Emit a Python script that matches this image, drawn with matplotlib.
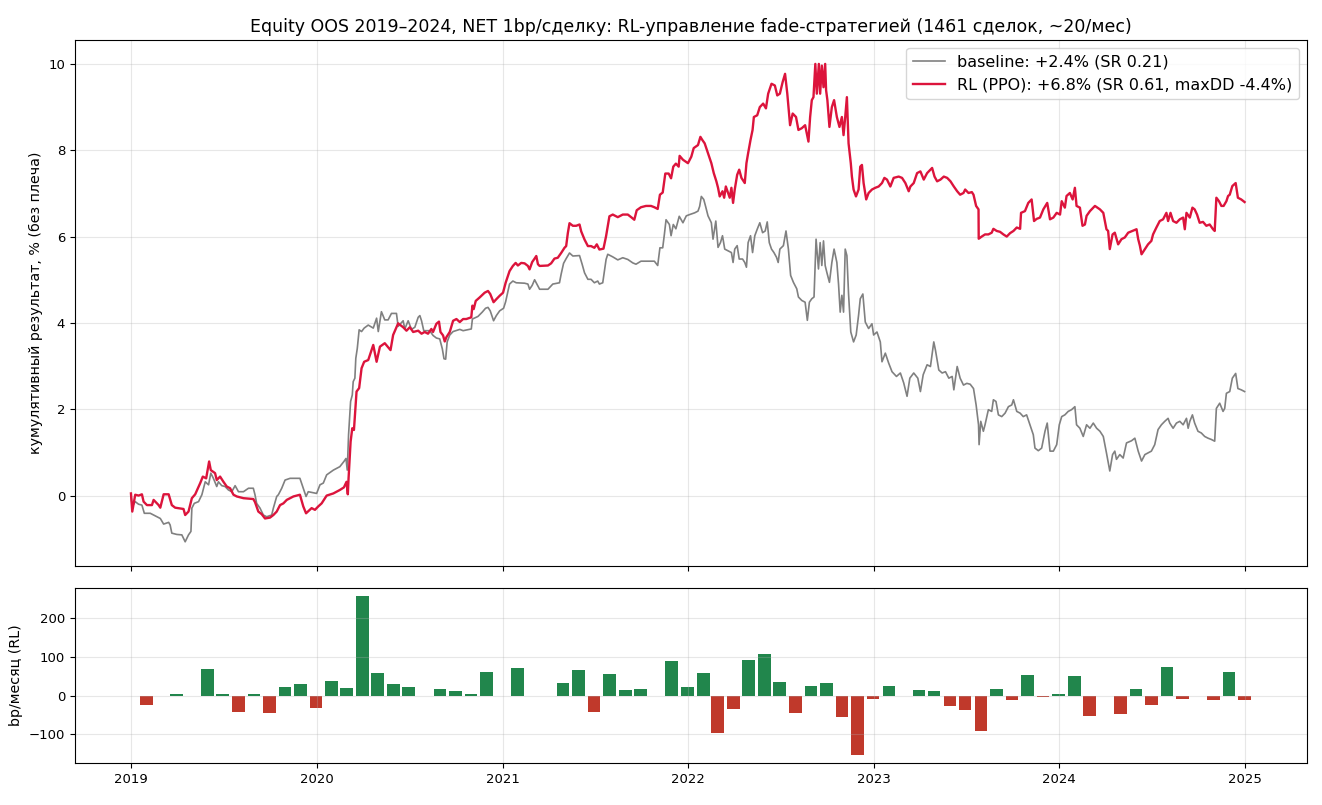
import matplotlib
matplotlib.use('Agg')
import matplotlib.pyplot as plt
import numpy as np
import pandas as pd

# (decimal year, cumulative %)
rl_pts = [
    (2019.000, 0.05), (2019.007, -0.37), (2019.023, 0.02), (2019.041, 0.00), (2019.059, 0.03),
    (2019.068, -0.14), (2019.086, -0.22), (2019.113, -0.22), (2019.122, -0.10), (2019.149, -0.22),
    (2019.158, -0.28), (2019.176, 0.03), (2019.203, 0.03), (2019.220, -0.22), (2019.238, -0.28),
    (2019.283, -0.31), (2019.292, -0.45), (2019.310, -0.37), (2019.328, -0.06), (2019.346, 0.03),
    (2019.373, 0.29), (2019.387, 0.44), (2019.405, 0.40), (2019.421, 0.79), (2019.430, 0.59),
    (2019.453, 0.52), (2019.462, 0.36), (2019.480, 0.44), (2019.498, 0.32), (2019.516, 0.21),
    (2019.534, 0.17), (2019.552, 0.02), (2019.570, -0.02), (2019.606, -0.06), (2019.659, -0.08),
    (2019.668, -0.15), (2019.686, -0.37), (2019.704, -0.43), (2019.722, -0.53), (2019.749, -0.51),
    (2019.767, -0.45), (2019.785, -0.37), (2019.803, -0.22), (2019.821, -0.18), (2019.839, -0.10),
    (2019.875, -0.02), (2019.910, 0.02), (2019.928, -0.25), (2019.943, -0.41), (2019.973, -0.29),
    (2019.991, -0.33), (2020.009, -0.25), (2020.027, -0.18), (2020.054, 0.00), (2020.090, 0.05),
    (2020.125, 0.13), (2020.147, 0.19), (2020.161, 0.32), (2020.168, 0.03), (2020.172, 0.40),
    (2020.183, 1.25), (2020.192, 1.56), (2020.201, 1.52), (2020.215, 2.41), (2020.229, 2.49),
    (2020.242, 2.95), (2020.256, 3.10), (2020.278, 3.14), (2020.305, 3.49), (2020.323, 3.10),
    (2020.341, 3.45), (2020.367, 3.53), (2020.398, 3.37), (2020.412, 3.72), (2020.439, 3.99),
    (2020.466, 3.90), (2020.484, 3.82), (2020.502, 3.90), (2020.520, 3.79), (2020.547, 3.82),
    (2020.565, 3.75), (2020.582, 3.79), (2020.600, 3.75), (2020.618, 3.86), (2020.627, 3.79),
    (2020.645, 3.98), (2020.659, 4.03), (2020.667, 3.79), (2020.681, 3.71), (2020.690, 3.57),
    (2020.699, 3.67), (2020.717, 3.79), (2020.735, 4.05), (2020.753, 4.09), (2020.771, 4.02),
    (2020.789, 4.09), (2020.806, 4.09), (2020.833, 4.13), (2020.839, 4.40), (2020.846, 4.32),
    (2020.857, 4.51), (2020.878, 4.59), (2020.905, 4.70), (2020.923, 4.74), (2020.935, 4.67),
    (2020.953, 4.48), (2020.968, 4.55), (2020.986, 4.63), (2021.004, 4.70), (2021.018, 4.93),
    (2021.039, 5.20), (2021.057, 5.32), (2021.072, 5.39), (2021.084, 5.33), (2021.102, 5.39),
    (2021.120, 5.38), (2021.138, 5.32), (2021.147, 5.24), (2021.161, 5.41), (2021.174, 5.49),
    (2021.183, 5.55), (2021.192, 5.36), (2021.201, 5.32), (2021.246, 5.33), (2021.263, 5.38),
    (2021.281, 5.49), (2021.299, 5.51), (2021.317, 5.62), (2021.335, 5.74), (2021.344, 5.78),
    (2021.353, 6.08), (2021.362, 6.31), (2021.380, 6.25), (2021.398, 6.25), (2021.416, 6.28),
    (2021.425, 6.12), (2021.443, 5.93), (2021.461, 5.78), (2021.478, 5.78), (2021.496, 5.74),
    (2021.509, 5.82), (2021.523, 5.70), (2021.545, 5.72), (2021.559, 6.01), (2021.577, 6.47),
    (2021.595, 6.51), (2021.622, 6.45), (2021.649, 6.51), (2021.676, 6.51), (2021.694, 6.45),
    (2021.711, 6.39), (2021.724, 6.61), (2021.747, 6.68), (2021.774, 6.71), (2021.801, 6.71),
    (2021.819, 6.68), (2021.837, 6.64), (2021.849, 6.97), (2021.864, 7.02), (2021.878, 7.46),
    (2021.896, 7.46), (2021.909, 7.35), (2021.921, 7.62), (2021.935, 7.69), (2021.950, 7.62),
    (2021.955, 7.87), (2021.973, 7.78), (2022.000, 7.70), (2022.018, 7.85), (2022.031, 8.05),
    (2022.054, 8.12), (2022.067, 8.31), (2022.077, 8.24), (2022.090, 8.16), (2022.108, 7.93),
    (2022.126, 7.70), (2022.139, 7.47), (2022.153, 7.28), (2022.162, 7.13), (2022.171, 6.93),
    (2022.186, 7.05), (2022.195, 6.90), (2022.204, 7.16), (2022.216, 7.01), (2022.225, 6.90),
    (2022.234, 7.13), (2022.243, 6.78), (2022.252, 7.09), (2022.265, 7.43), (2022.276, 7.55),
    (2022.288, 7.36), (2022.306, 7.24), (2022.315, 7.70), (2022.324, 7.93), (2022.337, 8.24),
    (2022.348, 8.47), (2022.355, 8.77), (2022.373, 8.81), (2022.387, 9.00), (2022.405, 9.08),
    (2022.420, 8.97), (2022.432, 9.31), (2022.450, 9.54), (2022.468, 9.50), (2022.481, 9.27),
    (2022.495, 9.31), (2022.510, 9.58), (2022.523, 9.77), (2022.535, 9.31), (2022.550, 8.58),
    (2022.564, 8.85), (2022.582, 8.77), (2022.595, 8.47), (2022.613, 8.51), (2022.631, 8.58),
    (2022.640, 8.39), (2022.649, 8.20), (2022.658, 8.77), (2022.667, 9.16), (2022.676, 9.23),
    (2022.686, 10.00), (2022.694, 9.31), (2022.705, 10.00), (2022.712, 9.31), (2022.721, 9.96),
    (2022.730, 9.46), (2022.739, 10.00), (2022.744, 9.39), (2022.751, 9.16), (2022.762, 8.54),
    (2022.775, 9.00), (2022.787, 9.16), (2022.802, 8.77), (2022.816, 8.54), (2022.829, 8.77),
    (2022.838, 8.35), (2022.847, 8.77), (2022.856, 9.23), (2022.865, 8.16), (2022.877, 7.70),
    (2022.883, 7.39), (2022.892, 7.09), (2022.905, 6.93), (2022.919, 7.09), (2022.928, 7.62),
    (2022.937, 7.66), (2022.946, 7.24), (2022.960, 6.86), (2022.973, 7.01), (2022.991, 7.09),
    (2023.009, 7.13), (2023.027, 7.16), (2023.045, 7.24), (2023.058, 7.36), (2023.072, 7.32),
    (2023.090, 7.16), (2023.108, 7.36), (2023.135, 7.39), (2023.153, 7.36), (2023.171, 7.24),
    (2023.189, 7.05), (2023.198, 7.16), (2023.216, 7.24), (2023.234, 7.47), (2023.252, 7.51),
    (2023.270, 7.32), (2023.288, 7.47), (2023.315, 7.59), (2023.328, 7.39), (2023.342, 7.28),
    (2023.360, 7.32), (2023.378, 7.39), (2023.396, 7.36), (2023.414, 7.28), (2023.432, 7.16),
    (2023.450, 7.05), (2023.466, 6.97), (2023.484, 7.01), (2023.493, 7.09), (2023.511, 7.01),
    (2023.529, 7.03), (2023.538, 6.97), (2023.552, 6.71), (2023.565, 6.63), (2023.566, 5.95),
    (2023.582, 6.00), (2023.600, 6.05), (2023.618, 6.05), (2023.636, 6.09), (2023.645, 6.18),
    (2023.663, 6.13), (2023.681, 6.11), (2023.699, 6.05), (2023.717, 6.00), (2023.735, 6.08),
    (2023.753, 6.13), (2023.771, 6.21), (2023.789, 6.18), (2023.794, 6.55), (2023.815, 6.59),
    (2023.833, 6.78), (2023.851, 6.86), (2023.864, 6.36), (2023.878, 6.41), (2023.896, 6.44),
    (2023.914, 6.63), (2023.935, 6.78), (2023.950, 6.40), (2023.968, 6.44), (2023.986, 6.55),
    (2024.004, 6.51), (2024.013, 6.82), (2024.030, 6.67), (2024.039, 6.94), (2024.057, 7.01),
    (2024.072, 6.86), (2024.084, 7.13), (2024.093, 6.71), (2024.111, 6.67), (2024.125, 6.25),
    (2024.138, 6.28), (2024.147, 6.48), (2024.165, 6.59), (2024.192, 6.71), (2024.219, 6.63),
    (2024.237, 6.55), (2024.254, 6.17), (2024.263, 6.13), (2024.272, 5.71), (2024.287, 6.05),
    (2024.299, 6.09), (2024.317, 5.82), (2024.335, 5.94), (2024.353, 5.98), (2024.371, 6.09),
    (2024.416, 6.17), (2024.425, 5.94), (2024.434, 5.79), (2024.443, 5.59), (2024.461, 5.71),
    (2024.478, 5.82), (2024.496, 5.90), (2024.505, 6.05), (2024.523, 6.21), (2024.541, 6.36),
    (2024.559, 6.40), (2024.577, 6.55), (2024.586, 6.36), (2024.599, 6.55), (2024.613, 6.36),
    (2024.631, 6.32), (2024.649, 6.40), (2024.667, 6.44), (2024.676, 6.17), (2024.685, 6.55),
    (2024.703, 6.44), (2024.717, 6.67), (2024.729, 6.63), (2024.742, 6.51), (2024.756, 6.32),
    (2024.774, 6.34), (2024.792, 6.25), (2024.810, 6.28), (2024.828, 6.17), (2024.837, 6.13),
    (2024.846, 6.90), (2024.860, 6.82), (2024.873, 6.71), (2024.885, 6.71), (2024.900, 6.82),
    (2024.909, 6.94), (2024.918, 6.97), (2024.932, 7.17), (2024.950, 7.24), (2024.962, 6.90),
    (2024.980, 6.86), (2024.998, 6.80),
]

base_pts = [
    (2019.000, 0.00), (2019.007, -0.25), (2019.023, -0.14), (2019.041, -0.20), (2019.059, -0.22),
    (2019.072, -0.41), (2019.104, -0.41), (2019.122, -0.45), (2019.140, -0.49), (2019.158, -0.53),
    (2019.176, -0.66), (2019.203, -0.62), (2019.211, -0.68), (2019.220, -0.87), (2019.247, -0.90),
    (2019.274, -0.91), (2019.292, -1.07), (2019.310, -0.91), (2019.323, -0.83), (2019.328, -0.29),
    (2019.341, -0.18), (2019.364, -0.14), (2019.382, 0.02), (2019.400, 0.32), (2019.418, 0.25),
    (2019.430, 0.52), (2019.444, 0.40), (2019.462, 0.21), (2019.471, 0.32), (2019.489, 0.23),
    (2019.507, 0.21), (2019.525, 0.13), (2019.543, 0.09), (2019.561, 0.23), (2019.579, 0.09),
    (2019.606, 0.09), (2019.633, 0.17), (2019.659, 0.17), (2019.668, 0.02), (2019.677, -0.18),
    (2019.695, -0.29), (2019.713, -0.45), (2019.731, -0.49), (2019.758, -0.45), (2019.767, -0.29),
    (2019.785, -0.02), (2019.794, 0.02), (2019.812, 0.17), (2019.830, 0.36), (2019.857, 0.40),
    (2019.884, 0.40), (2019.910, 0.40), (2019.928, 0.17), (2019.943, -0.02), (2019.955, 0.09),
    (2020.000, 0.05), (2020.018, 0.25), (2020.036, 0.29), (2020.054, 0.48), (2020.090, 0.59),
    (2020.125, 0.67), (2020.147, 0.79), (2020.158, 0.86), (2020.165, 0.59), (2020.172, 1.41),
    (2020.183, 2.18), (2020.192, 2.33), (2020.197, 2.64), (2020.206, 2.72), (2020.211, 3.18),
    (2020.219, 3.41), (2020.229, 3.84), (2020.242, 3.80), (2020.256, 3.88), (2020.278, 3.95),
    (2020.305, 3.88), (2020.323, 4.11), (2020.332, 3.80), (2020.349, 4.26), (2020.367, 4.07),
    (2020.385, 4.07), (2020.403, 4.22), (2020.430, 4.22), (2020.439, 3.92), (2020.466, 4.05),
    (2020.475, 3.86), (2020.493, 4.05), (2020.511, 3.85), (2020.529, 3.90), (2020.547, 4.13),
    (2020.556, 4.17), (2020.565, 4.05), (2020.577, 3.82), (2020.609, 3.82), (2020.627, 3.71),
    (2020.645, 3.65), (2020.663, 3.63), (2020.677, 3.40), (2020.686, 3.17), (2020.695, 3.16),
    (2020.703, 3.56), (2020.717, 3.72), (2020.735, 3.80), (2020.771, 3.85), (2020.789, 3.82),
    (2020.833, 3.86), (2020.839, 4.09), (2020.869, 4.15), (2020.892, 4.25), (2020.910, 4.34),
    (2020.923, 4.36), (2020.935, 4.28), (2020.953, 4.05), (2020.968, 4.17), (2020.986, 4.28),
    (2021.007, 4.34), (2021.018, 4.49), (2021.039, 4.90), (2021.057, 4.97), (2021.075, 4.93),
    (2021.120, 4.92), (2021.138, 4.90), (2021.147, 4.78), (2021.161, 4.87), (2021.174, 5.00),
    (2021.186, 4.90), (2021.201, 4.78), (2021.246, 4.78), (2021.272, 4.90), (2021.308, 4.93),
    (2021.317, 5.13), (2021.330, 5.38), (2021.344, 5.49), (2021.362, 5.62), (2021.380, 5.55),
    (2021.416, 5.56), (2021.430, 5.36), (2021.443, 5.16), (2021.461, 5.01), (2021.478, 5.01),
    (2021.496, 4.93), (2021.514, 4.97), (2021.523, 4.90), (2021.541, 4.93), (2021.559, 5.47),
    (2021.568, 5.59), (2021.595, 5.53), (2021.622, 5.46), (2021.649, 5.51), (2021.676, 5.47),
    (2021.703, 5.39), (2021.720, 5.36), (2021.747, 5.43), (2021.819, 5.43), (2021.837, 5.33),
    (2021.849, 5.74), (2021.864, 5.74), (2021.873, 6.05), (2021.882, 6.39), (2021.900, 6.28),
    (2021.909, 6.02), (2021.921, 6.28), (2021.935, 6.18), (2021.953, 6.47), (2021.973, 6.32),
    (2021.991, 6.48), (2022.009, 6.51), (2022.036, 6.55), (2022.054, 6.59), (2022.063, 6.70),
    (2022.072, 6.93), (2022.085, 6.86), (2022.095, 6.70), (2022.108, 6.48), (2022.126, 6.32),
    (2022.135, 5.94), (2022.150, 6.36), (2022.162, 5.75), (2022.175, 5.86), (2022.186, 6.02),
    (2022.198, 5.71), (2022.216, 5.67), (2022.234, 5.63), (2022.243, 5.40), (2022.252, 5.71),
    (2022.265, 5.79), (2022.276, 5.48), (2022.294, 5.48), (2022.306, 5.40), (2022.315, 5.29),
    (2022.324, 5.86), (2022.337, 6.02), (2022.348, 5.63), (2022.360, 6.02), (2022.373, 6.17),
    (2022.387, 6.32), (2022.402, 6.09), (2022.416, 6.13), (2022.427, 6.34), (2022.438, 5.86),
    (2022.450, 5.71), (2022.463, 5.63), (2022.477, 5.52), (2022.486, 5.40), (2022.495, 5.71),
    (2022.514, 5.79), (2022.528, 6.13), (2022.541, 5.71), (2022.553, 5.10), (2022.568, 4.94),
    (2022.586, 4.79), (2022.595, 4.60), (2022.613, 4.52), (2022.631, 4.48), (2022.643, 4.06),
    (2022.654, 4.48), (2022.667, 4.56), (2022.679, 4.60), (2022.690, 5.94), (2022.703, 5.25),
    (2022.712, 5.86), (2022.721, 5.33), (2022.730, 5.90), (2022.739, 5.33), (2022.748, 5.17),
    (2022.762, 4.94), (2022.775, 5.40), (2022.787, 5.71), (2022.802, 5.40), (2022.811, 4.90),
    (2022.820, 4.25), (2022.829, 4.64), (2022.838, 4.25), (2022.847, 5.71), (2022.856, 5.56),
    (2022.865, 4.67), (2022.877, 3.79), (2022.892, 3.56), (2022.906, 3.72), (2022.919, 4.18),
    (2022.928, 4.56), (2022.942, 4.67), (2022.955, 4.02), (2022.973, 3.87), (2022.991, 3.98),
    (2023.000, 3.72), (2023.018, 3.79), (2023.036, 3.56), (2023.045, 3.10), (2023.063, 3.30),
    (2023.081, 3.07), (2023.099, 2.87), (2023.123, 2.76), (2023.144, 2.84), (2023.162, 2.61),
    (2023.180, 2.30), (2023.195, 2.72), (2023.216, 2.84), (2023.238, 2.72), (2023.252, 2.41),
    (2023.267, 2.80), (2023.288, 3.03), (2023.306, 2.99), (2023.324, 3.56), (2023.333, 3.37),
    (2023.351, 2.91), (2023.369, 2.84), (2023.387, 2.87), (2023.405, 2.72), (2023.423, 2.76),
    (2023.432, 2.45), (2023.450, 2.99), (2023.466, 2.72), (2023.484, 2.56), (2023.502, 2.60),
    (2023.520, 2.58), (2023.538, 2.48), (2023.552, 2.10), (2023.565, 1.64), (2023.568, 1.18),
    (2023.577, 1.72), (2023.591, 1.49), (2023.600, 1.64), (2023.618, 1.99), (2023.636, 1.95),
    (2023.645, 2.22), (2023.659, 2.18), (2023.672, 1.87), (2023.690, 1.83), (2023.708, 1.91),
    (2023.726, 2.06), (2023.744, 2.10), (2023.753, 2.22), (2023.771, 1.95), (2023.789, 1.91),
    (2023.806, 1.83), (2023.824, 1.87), (2023.842, 1.64), (2023.860, 1.41), (2023.869, 1.10),
    (2023.887, 1.04), (2023.905, 1.10), (2023.923, 1.49), (2023.935, 1.68), (2023.950, 1.03),
    (2023.968, 1.03), (2023.986, 1.18), (2024.000, 1.64), (2024.013, 1.83), (2024.030, 1.87),
    (2024.048, 1.95), (2024.066, 1.99), (2024.084, 2.06), (2024.093, 1.64), (2024.111, 1.56),
    (2024.129, 1.37), (2024.147, 1.64), (2024.165, 1.56), (2024.183, 1.68), (2024.201, 1.56),
    (2024.219, 1.49), (2024.237, 1.37), (2024.254, 0.99), (2024.272, 0.57), (2024.287, 0.95),
    (2024.299, 1.03), (2024.308, 0.84), (2024.326, 0.95), (2024.344, 0.87), (2024.362, 1.22),
    (2024.389, 1.27), (2024.407, 1.33), (2024.425, 1.03), (2024.443, 0.80), (2024.461, 0.95),
    (2024.478, 0.99), (2024.496, 1.03), (2024.514, 1.18), (2024.532, 1.53), (2024.550, 1.64),
    (2024.568, 1.72), (2024.586, 1.79), (2024.595, 1.68), (2024.613, 1.56), (2024.631, 1.68),
    (2024.649, 1.72), (2024.667, 1.64), (2024.685, 1.79), (2024.694, 1.56), (2024.703, 1.72),
    (2024.717, 1.87), (2024.729, 1.68), (2024.747, 1.49), (2024.765, 1.45), (2024.783, 1.37),
    (2024.801, 1.33), (2024.819, 1.30), (2024.837, 1.26), (2024.846, 2.02), (2024.864, 2.14),
    (2024.882, 1.95), (2024.891, 2.02), (2024.900, 2.37), (2024.918, 2.41), (2024.932, 2.72),
    (2024.950, 2.83), (2024.962, 2.48), (2024.980, 2.45), (2024.998, 2.41),
]

# monthly RL result, bp (Jan 2019 .. Dec 2024)
month_bp = [
    -25, -2, 3, -2, 68, 3, -43, 3, -45, 21, 29, -32,
    37, 19, 257, 57, 29, 21, -2, 16, 11, 3, 60, -2,
    70, 0, 0, 32, 65, -43, 55, 14, 16, 0, 88, 21,
    57, -97, -35, 91, 106, 34, -45, 24, 32, -56, -153, -9,
    24, 0, 14, 13, -27, -38, -91, 16, -12, 52, -4, 3,
    50, -53, -2, -48, 16, -25, 73, -9, -2, -12, 60, -12,
]

label_base = 'baseline: +2.4% (SR 0.21)'
label_rl = 'RL (PPO): +6.8% (SR 0.61, maxDD -4.4%)'
title = 'Equity OOS 2019–2024, NET 1bp/сделку: RL-управление fade-стратегией (1461 сделок, ~20/мес)'


def to_dates(pts):
    t = np.array([p[0] for p in pts])
    v = np.array([p[1] for p in pts])
    d = pd.Timestamp('2019-01-01') + pd.to_timedelta((t - 2019) * 365.25, unit='D')
    return d, v


base_d, base_v = to_dates(base_pts)
rl_d, rl_v = to_dates(rl_pts)
months = pd.date_range('2019-01-31', periods=len(month_bp), freq='ME')
bar_cols = ['#21864c' if b >= 0 else '#c0392b' for b in month_bp]

fig, (ax1, ax2) = plt.subplots(2, 1, figsize=(13.22, 8.05), dpi=100, sharex=True,
                               gridspec_kw={'height_ratios': [3, 1]})
fig.subplots_adjust(left=0.0567, right=0.9887, top=0.9503, bottom=0.0522, hspace=0.063)

ax1.plot(base_d, base_v, color='gray', lw=1.2, label=label_base)
ax1.plot(rl_d, rl_v, color='crimson', lw=1.7, label=label_rl)
ax1.set_title(title, fontsize=12.5)
ax1.set_ylabel('кумулятивный результат, % (без плеча)', fontsize=10.3)
ax1.grid(alpha=0.3)
ax1.legend(loc='upper right', fontsize=11.5)
ax1.tick_params(labelsize=9.5)

ax2.bar(months, month_bp, width=25, color=bar_cols)
ax2.set_ylabel('bp/месяц (RL)', fontsize=10.3)
ax2.grid(alpha=0.3)
ax2.tick_params(labelsize=9.5)

fig.savefig('out.png', dpi=100)
